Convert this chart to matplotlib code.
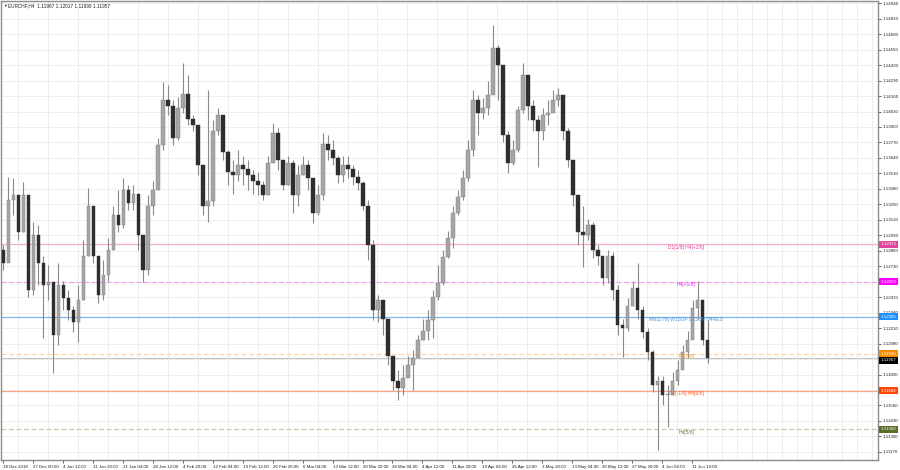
import matplotlib.pyplot as plt
import matplotlib.transforms as mtransforms
import numpy as np

plt.rcParams.update({
    "font.family": ["Liberation Sans", "DejaVu Sans"],
    "font.size": 3.2,
})

# ─────────────────────────────────────────────
# DATOS (EURCHF H4, una vela cada ~5 barras)
# ─────────────────────────────────────────────
first_open = 1.1287

closes = [
    1.1276, 1.1329, 1.1333, 1.1302, 1.1333, 1.1253, 1.1299, 1.1276, 1.1257, 1.1260,
    1.1215, 1.1257, 1.1246, 1.1236, 1.1226, 1.1245, 1.1282, 1.1324, 1.1282, 1.1249,
    1.1266, 1.1287, 1.1316, 1.1308, 1.1337, 1.1326, 1.1334, 1.1299, 1.1270, 1.1324,
    1.1337, 1.1375, 1.1413, 1.1408, 1.1381, 1.1406, 1.1418, 1.1397, 1.1392, 1.1358,
    1.1324, 1.1328, 1.1387, 1.1400, 1.1369, 1.1352, 1.1350, 1.1358, 1.1355, 1.1350,
    1.1345, 1.1341, 1.1333, 1.1360, 1.1385, 1.1362, 1.1341, 1.1360, 1.1333, 1.1350,
    1.1358, 1.1347, 1.1318, 1.1333, 1.1376, 1.1371, 1.1364, 1.1350, 1.1358, 1.1355,
    1.1348, 1.1343, 1.1324, 1.1291, 1.1236, 1.1245, 1.1229, 1.1198, 1.1177, 1.1171,
    1.1179, 1.1190, 1.1196, 1.1211, 1.1219, 1.1228, 1.1247, 1.1259, 1.1281, 1.1297,
    1.1318, 1.1331, 1.1347, 1.1371, 1.1413, 1.1402, 1.1406, 1.1417, 1.1456, 1.1442,
    1.1383, 1.1360, 1.1371, 1.1404, 1.1434, 1.1408, 1.1396, 1.1387, 1.1400, 1.1402,
    1.1413, 1.1417, 1.1387, 1.1362, 1.1333, 1.1302, 1.1299, 1.1308, 1.1287, 1.1282,
    1.1263, 1.1282, 1.1253, 1.1224, 1.1221, 1.1240, 1.1255, 1.1236, 1.1218, 1.1201,
    1.1173, 1.1177, 1.1165, 1.1165, 1.1177, 1.1186, 1.1201, 1.1211, 1.1238, 1.1245,
    1.1211, 1.11957,
]
highs = [
    1.1291, 1.1348, 1.1347, 1.1329, 1.1344, 1.1333, 1.1310, 1.1308, 1.1282, 1.1274,
    1.1257, 1.1276, 1.1261, 1.1253, 1.1240, 1.1257, 1.1295, 1.1339, 1.1316, 1.1282,
    1.1278, 1.1297, 1.1324, 1.1337, 1.1347, 1.1341, 1.1341, 1.1333, 1.1299, 1.1333,
    1.1345, 1.1381, 1.1428, 1.1425, 1.1413, 1.1415, 1.1444, 1.1434, 1.1400, 1.1392,
    1.1358, 1.1421, 1.1396, 1.1406, 1.1400, 1.1371, 1.1362, 1.1371, 1.1366, 1.1362,
    1.1354, 1.1352, 1.1345, 1.1366, 1.1393, 1.1389, 1.1362, 1.1366, 1.1362, 1.1358,
    1.1366, 1.1362, 1.1347, 1.1341, 1.1385, 1.1383, 1.1379, 1.1366, 1.1366, 1.1366,
    1.1358, 1.1354, 1.1345, 1.1329, 1.1295, 1.1249, 1.1240, 1.1228, 1.1198, 1.1186,
    1.1190, 1.1198, 1.1203, 1.1215, 1.1229, 1.1236, 1.1253, 1.1274, 1.1287, 1.1303,
    1.1324, 1.1337, 1.1354, 1.1379, 1.1421, 1.1417, 1.1414, 1.1429, 1.1476, 1.1459,
    1.1417, 1.1387, 1.1379, 1.1408, 1.1444, 1.1425, 1.1413, 1.1400, 1.1406, 1.1413,
    1.1421, 1.1423, 1.1404, 1.1389, 1.1362, 1.1329, 1.1324, 1.1313, 1.1310, 1.1291,
    1.1282, 1.1287, 1.1285, 1.1257, 1.1229, 1.1246, 1.1261, 1.1276, 1.1240, 1.1221,
    1.1203, 1.1181, 1.1181, 1.1173, 1.1184, 1.1194, 1.1207, 1.1219, 1.1245, 1.1261,
    1.1245, 1.1228,
]
lows = [
    1.1270, 1.1282, 1.1316, 1.1295, 1.1302, 1.1247, 1.1249, 1.1257, 1.1213, 1.1245,
    1.1183, 1.1207, 1.1236, 1.1228, 1.1218, 1.1209, 1.1245, 1.1282, 1.1276, 1.1242,
    1.1245, 1.1261, 1.1287, 1.1302, 1.1305, 1.1320, 1.1320, 1.1287, 1.1260, 1.1266,
    1.1316, 1.1337, 1.1371, 1.1400, 1.1375, 1.1379, 1.1402, 1.1392, 1.1387, 1.1350,
    1.1316, 1.1310, 1.1324, 1.1383, 1.1362, 1.1341, 1.1334, 1.1345, 1.1341, 1.1337,
    1.1334, 1.1333, 1.1329, 1.1333, 1.1362, 1.1354, 1.1337, 1.1341, 1.1318, 1.1324,
    1.1350, 1.1337, 1.1309, 1.1316, 1.1329, 1.1362, 1.1358, 1.1343, 1.1344, 1.1347,
    1.1341, 1.1337, 1.1320, 1.1278, 1.1228, 1.1226, 1.1215, 1.1190, 1.1169, 1.1161,
    1.1165, 1.1182, 1.1169, 1.1198, 1.1211, 1.1211, 1.1213, 1.1245, 1.1257, 1.1280,
    1.1288, 1.1316, 1.1329, 1.1345, 1.1366, 1.1383, 1.1397, 1.1400, 1.1425, 1.1413,
    1.1377, 1.1351, 1.1358, 1.1369, 1.1402, 1.1396, 1.1387, 1.1356, 1.1379, 1.1392,
    1.1406, 1.1408, 1.1379, 1.1356, 1.1324, 1.1291, 1.1272, 1.1295, 1.1280, 1.1274,
    1.1257, 1.1259, 1.1245, 1.1215, 1.1197, 1.1219, 1.1240, 1.1229, 1.1213, 1.1194,
    1.1167, 1.1119, 1.1156, 1.1138, 1.1165, 1.1173, 1.1194, 1.1196, 1.1213, 1.1229,
    1.1207, 1.1192,
]

time_labels = [
    "18 Dec 2018", "27 Dec 00:00", "4 Jan 12:00", "11 Jan 20:00", "21 Jan 04:00",
    "28 Jan 12:00", "4 Feb 20:00", "12 Feb 04:00", "19 Feb 12:00", "26 Feb 20:00",
    "6 Mar 04:00", "13 Mar 12:00", "20 Mar 20:00", "28 Mar 04:00", "4 Apr 12:00",
    "11 Apr 20:00", "19 Apr 04:00", "26 Apr 12:00", "3 May 20:00", "13 May 04:00",
    "20 May 12:00", "27 May 20:00", "4 Jun 04:00", "11 Jun 12:00",
]

# niveles horizontales: precio, texto, color linea, estilo, color texto, color caja
level_prices = [1.12915, 1.12600, 1.12305, 1.11995, 1.11684, 1.11360]
level_texts = ["D1[1/8] H4[+2/8]", "H4[+1/8]", "MN1[7/8] W1SUP D1SUP H4RES",
               "H4[7/8]", "D1[-1/8] H4[6/8]", "H4[5/8]"]
level_line_colors = ["#F5A9CF", "#F3A2F3", "#7DB6EC", "#FFD4A8", "#FFA585", "#CACAB0"]
level_styles = ["-", "--", "-", "--", "-", "--"]
level_text_colors = ["#DA3E98", "#F020F0", "#4596E4", "#FF9A20", "#FF5A2A", "#6E7C3E"]
level_box_colors = ["#E0449C", "#FF00FF", "#1E90FF", "#FF8C00", "#FF4500", "#5A6E2A"]

bid = 1.11957
title = "EURCHF,H4  1.11967 1.12017 1.11939 1.11957"

# ─────────────────────────────────────────────
# GRAFICA
# ─────────────────────────────────────────────
fig = plt.figure(figsize=(9, 4.7), dpi=100)
ax = fig.add_axes([0.001, 0.0205, 0.9745, 0.977])

closes = np.array(closes)
opens = np.concatenate([[first_open], closes[:-1]])
highs = np.array(highs)
lows = np.array(lows)
x = np.arange(len(closes))

# niveles (debajo de las velas)
for p, lc, ls in zip(level_prices, level_line_colors, level_styles):
    ax.axhline(p, color=lc, linestyle=ls, linewidth=0.9, zorder=1,
               dashes=(4, 2) if ls == "--" else (None, None))
ax.axhline(bid, color="#C8C8C8", linewidth=0.8, zorder=1)

# velas
ax.vlines(x, lows, highs, color="#8A8A8A", linewidth=0.8, zorder=3)
up = closes >= opens
body_lo = np.minimum(opens, closes)
body_h = np.maximum(np.abs(closes - opens), 0.00003)
ax.bar(x[up], body_h[up], bottom=body_lo[up], width=0.7,
       color="#A6A6A6", edgecolor="#7E7E7E", linewidth=0.3, zorder=4)
ax.bar(x[~up], body_h[~up], bottom=body_lo[~up], width=0.7,
       color="#2E2E2E", edgecolor="#2E2E2E", linewidth=0.3, zorder=4)

# etiquetas de los niveles
for p, t, tc in zip(level_prices, level_texts, level_text_colors):
    ax.text(136.7, p - 0.00003, t, color=tc, fontsize=3.5,
            ha="center", va="top", zorder=5)

# ejes
ax.set_xlim(-0.5, 175.1)
ax.set_ylim(1.11099, 1.14957)

box_prices = level_prices + [bid]
price_ticks = 1.14940 - 0.0013 * np.arange(30)
tick_labels = []
for v in price_ticks:
    # las cajas de color tapan la etiqueta de la rejilla
    hidden = min(abs(v - b) for b in box_prices) < 0.0002
    tick_labels.append("" if hidden else f"{v:.5f}")
ax.yaxis.tick_right()
ax.set_yticks(price_ticks)
ax.set_yticklabels(tick_labels)
ax.tick_params(axis="y", length=2, width=0.5, pad=1.5, labelsize=3.2,
               colors="#202020")

ax.set_xticks(np.arange(len(time_labels)) * 6 - 0.1)
ax.set_xticklabels(time_labels, ha="left")
ax.set_xticks(np.arange(0, 176, 3) - 0.1, minor=True)
ax.tick_params(axis="x", which="major", length=2, width=0.5, pad=1.5,
               labelsize=3.2, colors="#202020")
ax.tick_params(axis="x", which="minor", length=0)

ax.grid(False)
ax.yaxis.grid(True, color="#EBEBEB", linewidth=0.6, zorder=0)
ax.xaxis.grid(True, which="minor", color="#EBEBEB", linewidth=0.6, zorder=0)
ax.set_axisbelow(True)

for s in ax.spines.values():
    s.set_color("#8C8C8C")
    s.set_linewidth(1.0)

# cajas de precio en el eje derecho
trans = mtransforms.blended_transform_factory(ax.transAxes, ax.transData)
for p, bc in zip(level_prices, level_box_colors):
    ax.text(1.003, p, f"{p:.5f}", transform=trans, color="white", fontsize=3.2,
            ha="left", va="center", clip_on=False, zorder=10,
            bbox=dict(boxstyle="square,pad=0.35", facecolor=bc, edgecolor="none"))
ax.text(1.003, bid - 0.00002, f"{bid:.5f}", transform=trans, color="white",
        fontsize=3.2, ha="left", va="top", clip_on=False, zorder=11,
        bbox=dict(boxstyle="square,pad=0.35", facecolor="black", edgecolor="none"))

# titulo
fig.text(3 / 900, 1 - 5.5 / 470, "\u25BC", fontsize=2.6, va="center", color="#202020")
fig.text(8 / 900, 1 - 5.5 / 470, title, fontsize=3.4, va="center", color="#202020")

fig.savefig("out.png", dpi=100)
